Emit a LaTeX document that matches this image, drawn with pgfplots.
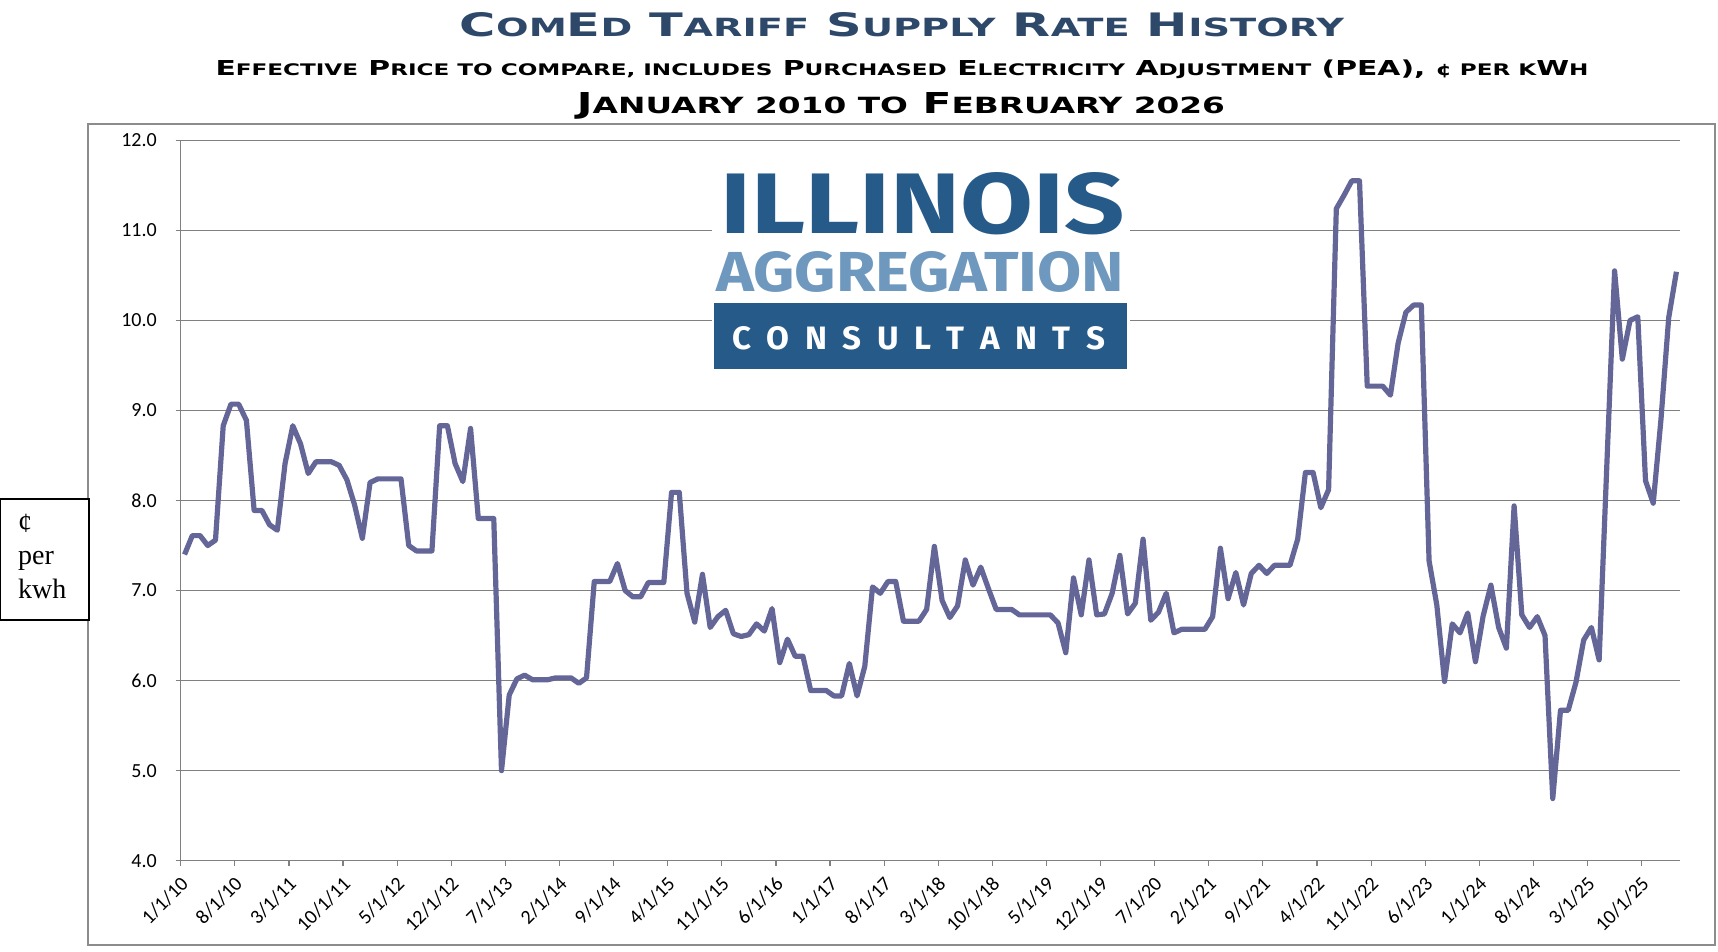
\documentclass[border=0pt]{standalone}
\usepackage{fontspec}
\usepackage{graphicx}
\usepackage{pgfplots}
\pgfplotsset{compat=1.18}
\newfontfamily\tickfont{Carlito}
\newfontfamily\titlefont{DejaVu Sans}
\newfontfamily\logofont{Fira Sans}
\newfontfamily\boxfont{Liberation Serif}
\definecolor{linecol}{RGB}{100,102,152}
\definecolor{gridgray}{RGB}{128,128,128}
\definecolor{framegray}{RGB}{140,140,140}
\definecolor{titleblue}{RGB}{46,72,106}
\definecolor{logodark}{RGB}{38,90,137}
\definecolor{logolight}{RGB}{110,152,190}
\newcommand\sm[1]{{\fontsize{15.5}{15.5}\selectfont #1}}
\pgfplotstableread{
i v
0 7.40
1 7.61
2 7.61
3 7.50
4 7.56
5 8.83
6 9.07
7 9.07
8 8.89
9 7.89
10 7.89
11 7.73
12 7.67
13 8.41
14 8.83
15 8.63
16 8.30
17 8.43
18 8.43
19 8.43
20 8.39
21 8.23
22 7.95
23 7.58
24 8.20
25 8.24
26 8.24
27 8.24
28 8.24
29 7.50
30 7.44
31 7.44
32 7.44
33 8.83
34 8.83
35 8.41
36 8.21
37 8.80
38 7.80
39 7.80
40 7.80
41 5.00
42 5.84
43 6.02
44 6.06
45 6.01
46 6.01
47 6.01
48 6.03
49 6.03
50 6.03
51 5.97
52 6.03
53 7.10
54 7.10
55 7.10
56 7.30
57 7.00
58 6.93
59 6.93
60 7.09
61 7.09
62 7.09
63 8.09
64 8.09
65 6.97
66 6.65
67 7.18
68 6.59
69 6.71
70 6.78
71 6.52
72 6.49
73 6.51
74 6.63
75 6.55
76 6.80
77 6.20
78 6.46
79 6.27
80 6.27
81 5.89
82 5.89
83 5.89
84 5.83
85 5.83
86 6.19
87 5.83
88 6.16
89 7.04
90 6.97
91 7.10
92 7.10
93 6.66
94 6.66
95 6.66
96 6.79
97 7.49
98 6.89
99 6.70
100 6.83
101 7.34
102 7.06
103 7.26
104 7.02
105 6.79
106 6.79
107 6.79
108 6.73
109 6.73
110 6.73
111 6.73
112 6.73
113 6.64
114 6.31
115 7.14
116 6.73
117 7.34
118 6.73
119 6.74
120 6.97
121 7.39
122 6.74
123 6.86
124 7.57
125 6.67
126 6.76
127 6.97
128 6.53
129 6.57
130 6.57
131 6.57
132 6.57
133 6.71
134 7.47
135 6.91
136 7.20
137 6.84
138 7.19
139 7.28
140 7.19
141 7.28
142 7.28
143 7.28
144 7.57
145 8.31
146 8.31
147 7.92
148 8.12
149 11.24
150 11.39
151 11.55
152 11.55
153 9.27
154 9.27
155 9.27
156 9.17
157 9.75
158 10.09
159 10.17
160 10.17
161 7.33
162 6.84
163 5.99
164 6.63
165 6.53
166 6.75
167 6.21
168 6.72
169 7.06
170 6.59
171 6.36
172 7.94
173 6.73
174 6.59
175 6.71
176 6.50
177 4.69
178 5.67
179 5.67
180 5.98
181 6.45
182 6.59
183 6.23
184 8.40
185 10.55
186 9.57
187 10.00
188 10.04
189 8.22
190 7.97
191 8.90
192 10.03
193 10.54
}\ratedata
\begin{document}
\begin{tikzpicture}
\useasboundingbox (0pt,0pt) rectangle (1718pt,952pt);
\fill[white] (0pt,0pt) rectangle (1718pt,952pt);
\begin{scope}[x=1pt,y=1pt]
\draw[framegray, line width=1.3pt] (88,7) rectangle (1715,828);
\end{scope}
\begin{axis}[
  at={(180.7pt,91.3pt)}, anchor=south west,
  scale only axis, width=1499.6pt, height=720.4pt,
  xmin=-0.5, xmax=193.5, ymin=4, ymax=12,
  axis x line*=bottom, axis y line*=left,
  axis line style={gridgray, line width=1.2pt, -},
  tick align=outside, major tick length=5pt,
  tick style={gridgray, line width=1.2pt},
  ytick={4,5,...,12},
  ymajorgrids, major grid style={gridgray, line width=1.2pt},
  xtick={-0.5,6.5,13.5,20.5,27.5,34.5,41.5,48.5,55.5,62.5,69.5,76.5,83.5,90.5,97.5,104.5,111.5,118.5,125.5,132.5,139.5,146.5,153.5,160.5,167.5,174.5,181.5,188.5},
  xticklabels={1/1/10,8/1/10,3/1/11,10/1/11,5/1/12,12/1/12,7/1/13,2/1/14,9/1/14,4/1/15,11/1/15,6/1/16,1/1/17,8/1/17,3/1/18,10/1/18,5/1/19,12/1/19,7/1/20,2/1/21,9/1/21,4/1/22,11/1/22,6/1/23,1/1/24,8/1/24,3/1/25,10/1/25},
  ticklabel style={font=\tickfont\fontsize{20}{20}\selectfont, text=black},
  xticklabel style={xshift=4pt, yshift=-15pt, rotate=45, anchor=east, inner sep=0pt},
  yticklabel style={anchor=east, inner sep=0pt, xshift=-18.7pt},
  /pgf/number format/.cd, fixed, fixed zerofill, precision=1, assume math mode=true,
]
\addplot[color=linecol, line width=5.2pt, line join=round, mark=none] table[x=i, y=v] {\ratedata};
\end{axis}
\begin{scope}[x=1pt,y=1pt]
% titles
\node[anchor=base, inner sep=0pt, text=titleblue] at (902,915) {\resizebox{884pt}{24pt}{\titlefont\bfseries\fontsize{20}{20}\selectfont C\sm{OM}E\sm{D} T\sm{ARIFF} S\sm{UPPLY} R\sm{ATE} H\sm{ISTORY}}};
\node[anchor=base, inner sep=0pt, text=black] at (902,876) {\resizebox{1373pt}{15.6pt}{\titlefont\bfseries\fontsize{20}{20}\selectfont E\sm{FFECTIVE} P\sm{RICE TO COMPARE, INCLUDES} P\sm{URCHASED} E\sm{LECTRICITY} A\sm{DJUSTMENT} (PEA), \sm{¢ PER K}W\sm{H}}};
\node[anchor=base, inner sep=0pt, text=black] at (901,838) {\resizebox{648pt}{21pt}{\titlefont\bfseries\fontsize{20}{20}\selectfont J\sm{ANUARY 2010 TO} F\sm{EBRUARY 2026}}};
% logo
\fill[white] (712,582) rectangle (1130,792);
\node[anchor=base west, inner sep=0pt, text=logodark] at (720,718) {\resizebox{404pt}{61pt}{\logofont\bfseries ILLINOIS}};
\node[anchor=base west, inner sep=0pt, text=logolight] at (716,660) {\resizebox{408pt}{40pt}{\logofont\bfseries AGGREGATION}};
\fill[logodark] (714,583) rectangle (1127,649);
\node[anchor=base west, inner sep=0pt, text=white] at (732,602) {\resizebox{373pt}{23pt}{\logofont\bfseries C\hspace{0.47em}O\hspace{0.47em}N\hspace{0.47em}S\hspace{0.47em}U\hspace{0.47em}L\hspace{0.47em}T\hspace{0.47em}A\hspace{0.47em}N\hspace{0.47em}T\hspace{0.47em}S}};
% y label box
\draw[black, line width=1.3pt, fill=white] (0.7,332) rectangle (89,453);
\node[anchor=base west, inner sep=0pt] at (18,419) {\boxfont\fontsize{28}{28}\selectfont ¢};
\node[anchor=base west, inner sep=0pt] at (18,387) {\boxfont\fontsize{28}{28}\selectfont per};
\node[anchor=base west, inner sep=0pt] at (18,353) {\boxfont\fontsize{28}{28}\selectfont kwh};
\end{scope}
\end{tikzpicture}
\end{document}
